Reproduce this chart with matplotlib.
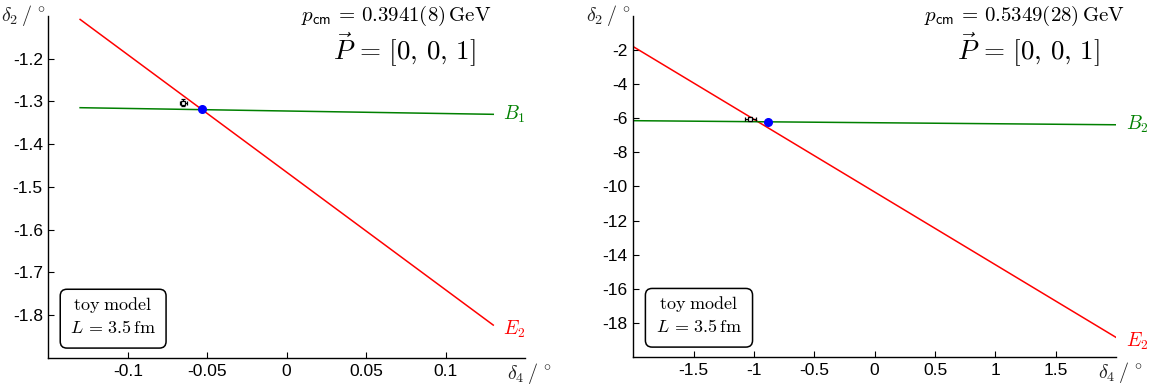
import matplotlib
matplotlib.use("Agg")
import matplotlib.pyplot as plt
from matplotlib.patches import FancyBboxPatch

plt.rcParams['mathtext.fontset'] = 'cm'
plt.rcParams['font.family'] = 'Liberation Sans'

# left panel (B1 / E2)
left_x = [-0.13, 0.13]
left_e2 = [-1.108, -1.823]
left_b1 = [-1.3145, -1.330]
left_cross = (-0.0533, -1.318)
left_point = (-0.065, -1.3025)
left_err = (0.002, 0.008)
left_xticks = [-0.1, -0.05, 0, 0.05, 0.1]
left_xlabels = ['-0.1', '-0.05', '0', '0.05', '0.1']
left_yticks = [-1.8, -1.7, -1.6, -1.5, -1.4, -1.3, -1.2]
left_ylabels = ['-1.8', '-1.7', '-1.6', '-1.5', '-1.4', '-1.3', '-1.2']

# right panel (B2 / E2)
right_x = [-2.0, 2.0]
right_e2 = [-1.8, -18.85]
right_b2 = [-6.14, -6.38]
right_cross = (-0.88, -6.2)
right_point = (-1.03, -6.02)
right_err = (0.045, 0.1)
right_xticks = [-1.5, -1, -0.5, 0, 0.5, 1, 1.5]
right_xlabels = ['-1.5', '-1', '-0.5', '0', '0.5', '1', '1.5']
right_yticks = [-18, -16, -14, -12, -10, -8, -6, -4, -2]
right_ylabels = ['-18', '-16', '-14', '-12', '-10', '-8', '-6', '-4', '-2']

GREEN = '#008000'
RED = '#ff0000'

fig = plt.figure(figsize=(11.67, 3.91), dpi=100)
ax1 = fig.add_axes([0.0414, 0.0844, 0.4085, 0.8747])
ax2 = fig.add_axes([0.5427, 0.0870, 0.4136, 0.8721])


def draw_panel(ax, xs, e2, b, b_name, cross, point, err, xlim, ylim,
               xticks, xlabels, yticks, ylabels, pcm, p_x):
    ax.plot(xs, e2, color=RED, lw=1.1)
    ax.plot(xs, b, color=GREEN, lw=1.1)
    ax.errorbar([point[0]], [point[1]], xerr=[err[0]], yerr=[err[1]],
                fmt='s', mfc='white', mec='black', ecolor='black',
                ms=3.5, mew=0.9, elinewidth=0.9, capsize=1.5, zorder=4)
    ax.plot([cross[0]], [cross[1]], 'o', color='blue', ms=5.5, zorder=5)

    ax.annotate(b_name, (xs[1], b[1]), xytext=(7, 0), textcoords='offset points',
                color=GREEN, fontsize=14, va='center', ha='left')
    ax.annotate('$E_2$', (xs[1], e2[1]), xytext=(7, -3), textcoords='offset points',
                color=RED, fontsize=14, va='center', ha='left')

    ax.set_xlim(*xlim)
    ax.set_ylim(*ylim)
    ax.set_xticks(xticks)
    ax.set_xticklabels(xlabels)
    ax.set_yticks(yticks)
    ax.set_yticklabels(ylabels)
    ax.tick_params(direction='in', length=4, width=0.8, labelsize=12.5,
                   top=False, right=False, pad=4)
    for side in ['top', 'right']:
        ax.spines[side].set_visible(False)
    for side in ['left', 'bottom']:
        ax.spines[side].set_linewidth(1.0)

    ax.text(-0.005, 1.0, r'$\delta_2\,/\,^\circ$', transform=ax.transAxes,
            ha='right', va='center', fontsize=14.5, color='#222222')
    ax.text(1.01, -0.045, r'$\delta_4\,/\,^\circ$', transform=ax.transAxes,
            ha='center', va='center', fontsize=14.5, color='#222222')

    ax.text(p_x[0], 1.0, pcm, transform=ax.transAxes, ha='right',
            va='center', fontsize=15)
    ax.text(p_x[1], 0.9, r'$\vec{P}\,=\,[0,\,0,\,1]$', transform=ax.transAxes,
            ha='center', va='center', fontsize=19.5)

    # rounded info box
    bb = ax.get_window_extent()
    box = FancyBboxPatch((0.025, 0.029), 0.222, 0.172,
                         boxstyle='round,pad=0,rounding_size=0.014',
                         mutation_aspect=bb.width / bb.height,
                         transform=ax.transAxes, fc='white', ec='black',
                         lw=1.1, zorder=6)
    ax.add_patch(box)
    ax.text(0.136, 0.156, r'$\mathrm{toy\ model}$', transform=ax.transAxes,
            ha='center', va='center', fontsize=13, zorder=7)
    ax.text(0.136, 0.086, r'$L\,=\,3.5\,\mathrm{fm}$', transform=ax.transAxes,
            ha='center', va='center', fontsize=13, zorder=7)


draw_panel(ax1, left_x, left_e2, left_b1, '$B_1$', left_cross, left_point,
           left_err, (-0.15, 0.15), (-1.9, -1.1), left_xticks, left_xlabels,
           left_yticks, left_ylabels,
           r'$p_{\mathsf{cm}}\,=\,0.3941(8)\,\mathrm{GeV}$', (0.93, 0.746))
draw_panel(ax2, right_x, right_e2, right_b2, '$B_2$', right_cross, right_point,
           right_err, (-2, 2), (-20, 0), right_xticks, right_xlabels,
           right_yticks, right_ylabels,
           r'$p_{\mathsf{cm}}\,=\,0.5349(28)\,\mathrm{GeV}$', (1.019, 0.818))

fig.savefig('out.png', dpi=100)
